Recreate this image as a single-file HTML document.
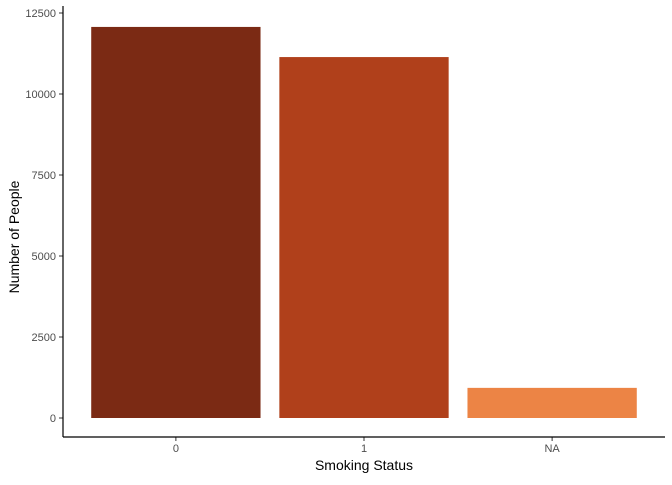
<!DOCTYPE html>
<html><head><meta charset="utf-8"><style>
html,body{margin:0;padding:0;background:#fff;}
svg text{font-family:"Liberation Sans",sans-serif;}
</style></head><body>
<svg id="chart" width="672" height="480"></svg>
<script>
const categories = ["0","1","NA"];
const values = [12070, 11140, 930];
const colors = ["#7B2A14","#B0401B","#EC8445"];
const yTicks = [0,2500,5000,7500,10000,12500];

const svg = document.getElementById('chart');
const NS = 'http://www.w3.org/2000/svg';
const plotLeft = 63, plotRight = 665, plotTop = 6, plotBottom = 437;
const y0px = 418, pxPer = 81/2500;
function yScale(v){ return y0px - v*pxPer; }
const unit = (plotRight-plotLeft)/(categories.length + 0.2);
function xScale(i){ return plotLeft + unit*(0.6 + i); }
function mk(tag, attrs){ const e=document.createElementNS(NS,tag); for(const k in attrs) e.setAttribute(k,attrs[k]); svg.appendChild(e); return e; }

categories.forEach((c,i)=>{
  const w = unit*0.9;
  const r = mk('rect',{x:xScale(i)-w/2,y:yScale(values[i]),width:w,height:yScale(0)-yScale(values[i]),fill:colors[i]});
  
  
  const t = mk('line',{x1:xScale(i),x2:xScale(i),y1:plotBottom,y2:plotBottom+4,stroke:'#333','stroke-width':1});
  
  
  const l = mk('text',{x:xScale(i),y:plotBottom+15,'font-size':11,fill:'#4d4d4d','text-anchor':'middle'});
  l.textContent = c;
  
  
});
yTicks.forEach(v=>{
  const t = mk('line',{x1:plotLeft-4,x2:plotLeft,y1:yScale(v),y2:yScale(v),stroke:'#333','stroke-width':1});
  
  
  const l = mk('text',{x:plotLeft-7,y:yScale(v)+4,'font-size':11,fill:'#4d4d4d','text-anchor':'end'});
  l.textContent = v;
  
  
});
const ya = mk('line',{x1:plotLeft,x2:plotLeft,y1:plotTop,y2:plotBottom,stroke:'#000','stroke-width':1.2});


const xa = mk('line',{x1:plotLeft,x2:plotRight,y1:plotBottom,y2:plotBottom,stroke:'#000','stroke-width':1.2});


const xt = mk('text',{x:(plotLeft+plotRight)/2,y:470,'font-size':14,fill:'#000','text-anchor':'middle'});
xt.textContent='Smoking Status';


const cy = 237;
const yt = mk('text',{x:19,y:cy,'font-size':14,fill:'#000','text-anchor':'middle',transform:'rotate(-90 19 '+cy+')'});
yt.textContent='Number of People';


</script>
</body></html>
